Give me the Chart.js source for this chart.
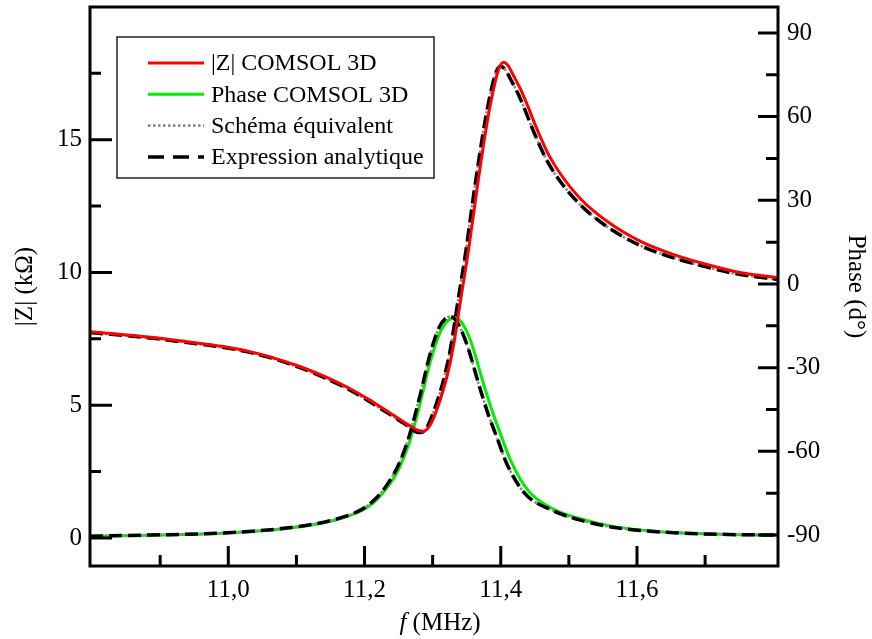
<!DOCTYPE html>
<html><head><meta charset="utf-8">
<script src="https://cdn.jsdelivr.net/npm/chart.js@4.4.1/dist/chart.umd.min.js"></script>
<style>html,body{margin:0;padding:0;background:#fff}#wrap{width:872px;height:639px}</style>
</head><body><div id="wrap"><canvas id="c" width="872" height="639"></canvas></div>
<script>
// ---- data ----
const freqZ = [10.797, 10.89, 10.94, 10.99, 11.03, 11.059, 11.106, 11.147, 11.179, 11.206, 11.224, 11.246, 11.265, 11.279, 11.287, 11.295, 11.303, 11.312, 11.322, 11.331, 11.341, 11.353, 11.366, 11.381, 11.393, 11.398, 11.404, 11.411, 11.419, 11.43, 11.44, 11.45, 11.46, 11.47, 11.488, 11.518, 11.557, 11.606, 11.654, 11.704, 11.753, 11.809];
const zComsol = [7.77, 7.55, 7.39, 7.22, 7.03, 6.84, 6.45, 6.02, 5.62, 5.22, 4.93, 4.57, 4.25, 4.05, 4.02, 4.20, 4.62, 5.28, 6.18, 7.30, 8.95, 10.90, 13.30, 15.80, 17.30, 17.72, 17.92, 17.78, 17.40, 16.85, 16.25, 15.60, 15.00, 14.45, 13.70, 12.75, 11.91, 11.16, 10.67, 10.29, 9.99, 9.80];

const freqZModel = [10.797, 10.89, 10.94, 10.99, 11.03, 11.059, 11.106, 11.147, 11.179, 11.206, 11.224, 11.246, 11.265, 11.276, 11.283, 11.291, 11.299, 11.308, 11.318, 11.327, 11.337, 11.349, 11.362, 11.377, 11.389, 11.394, 11.400, 11.407, 11.415, 11.426, 11.436, 11.446, 11.456, 11.466, 11.484, 11.514, 11.553, 11.602, 11.65, 11.70, 11.75, 11.809];
const zSchema = [7.74, 7.52, 7.36, 7.19, 7.00, 6.81, 6.41, 5.97, 5.57, 5.16, 4.87, 4.51, 4.19, 3.99, 3.97, 4.14, 4.60, 5.25, 6.15, 7.25, 8.90, 10.85, 13.25, 15.70, 17.20, 17.60, 17.77, 17.62, 17.25, 16.70, 16.10, 15.45, 14.85, 14.30, 13.55, 12.62, 11.78, 11.05, 10.58, 10.22, 9.93, 9.73];
const zAnalytic = [7.74, 7.52, 7.36, 7.19, 7.00, 6.81, 6.41, 5.97, 5.57, 5.16, 4.87, 4.51, 4.19, 3.99, 3.97, 4.14, 4.60, 5.25, 6.15, 7.25, 8.90, 10.85, 13.25, 15.70, 17.20, 17.60, 17.77, 17.62, 17.25, 16.70, 16.10, 15.45, 14.85, 14.30, 13.55, 12.62, 11.78, 11.05, 10.58, 10.22, 9.93, 9.73];

const freqPh = [10.797, 10.885, 10.99, 11.088, 11.157, 11.196, 11.215, 11.235, 11.25, 11.265, 11.28, 11.297, 11.312, 11.322, 11.332, 11.342, 11.356, 11.375, 11.388, 11.4, 11.415, 11.44, 11.474, 11.513, 11.562, 11.635, 11.734, 11.809];
const phaseComsol = [-90.4, -90.1, -89.4, -87.6, -84.6, -81.2, -78.0, -72.5, -66.5, -57.5, -44.5, -27.5, -16.8, -13.2, -12.1, -13.6, -20.5, -36, -46, -54, -63.5, -74, -80.3, -83.9, -86.8, -88.8, -89.8, -90.0];

const freqPhModel = [10.797, 10.885, 10.99, 11.088, 11.157, 11.196, 11.215, 11.235, 11.25, 11.265, 11.28, 11.297, 11.31, 11.318, 11.326, 11.335, 11.35, 11.369, 11.382, 11.394, 11.409, 11.435, 11.474, 11.513, 11.562, 11.635, 11.734, 11.809];
const phaseSchema = [-90.4, -90.0, -89.3, -87.4, -84.4, -80.8, -77.3, -71.3, -64.8, -55, -41.5, -24.5, -15.3, -12.6, -11.7, -13.3, -21.5, -37, -47, -54.8, -64.5, -75, -81.0, -84.4, -87.1, -88.9, -89.8, -90.0];
const phaseAnalytic = [-90.4, -90.0, -89.3, -87.4, -84.4, -80.8, -77.3, -71.3, -64.8, -55, -41.5, -24.5, -15.3, -12.6, -11.7, -13.3, -21.5, -37, -47, -54.8, -64.5, -75, -81.0, -84.4, -87.1, -88.9, -89.8, -90.0];

const legendLabels = ['|Z| COMSOL 3D', 'Phase COMSOL 3D', 'Schéma équivalent', 'Expression analytique'];
const freqTicks = [11.0, 11.2, 11.4, 11.6];
const freqMinor = [10.9, 11.1, 11.3, 11.5, 11.7];
const zTicks = [0, 5, 10, 15];
const zMinor = [2.5, 7.5, 12.5, 17.5];
const phaseTicks = [-90, -60, -30, 0, 30, 60, 90];
const phaseMinor = [-75, -45, -15, 15, 45, 75];

// ---- styles ----
const SERIF = "'Liberation Serif','Times New Roman',serif";
const tickFont = {family: SERIF, size: 25};
const titleFont = {family: SERIF, size: 25};
const styleRed = {borderColor: '#ff0000', borderWidth: 3, borderDash: []};
const styleGreen = {borderColor: '#00ee00', borderWidth: 3, borderDash: []};
const styleGray = {borderColor: '#8a8a8a', borderWidth: 2.6, borderDash: [2.5, 2.5]};
const styleBlack = {borderColor: '#000000', borderWidth: 3.5, borderDash: [13, 6]};

const pts = (xs, ys) => xs.map((x, i) => ({x, y: ys[i]}));
const mk = (label, data, axis, st) => Object.assign({label, data, yAxisID: axis, fill: false, pointRadius: 0, cubicInterpolationMode: 'monotone'}, st);

const datasets = [
  mk(legendLabels[0], pts(freqZ, zComsol), 'y', styleRed),
  mk(legendLabels[3], pts(freqZModel, zAnalytic), 'y', styleBlack),
  mk(legendLabels[3], pts(freqPhModel, phaseAnalytic), 'y2', styleBlack),
  mk(legendLabels[2], pts(freqZModel, zSchema), 'y', styleGray),
  mk(legendLabels[2], pts(freqPhModel, phaseSchema), 'y2', styleGray),
  mk(legendLabels[1], pts(freqPh, phaseComsol), 'y2', styleGreen)
];

const legendStyles = [styleRed, styleGreen, styleGray, Object.assign({}, styleBlack, {borderDash: [16, 9]})];

const noPad = s => { s.paddingTop = 0; s.paddingBottom = 0; s.paddingLeft = 0; s.paddingRight = 0; };

const framePlugin = {
  id: 'framePlugin',
  afterDatasetsDraw(chart) {
    const {ctx, chartArea: a, scales: {x, y, y2}} = chart;
    ctx.save();
    ctx.strokeStyle = '#000';
    ctx.lineWidth = 3;
    ctx.lineCap = 'butt';
    ctx.beginPath();
    const tx = (vals, len) => vals.forEach(v => { const p = x.getPixelForValue(v); ctx.moveTo(p, a.bottom); ctx.lineTo(p, a.bottom - len); });
    const tl = (vals, len) => vals.forEach(v => { const p = y.getPixelForValue(v); ctx.moveTo(a.left, p); ctx.lineTo(a.left + len, p); });
    const tr = (vals, len) => vals.forEach(v => { const p = y2.getPixelForValue(v); ctx.moveTo(a.right, p); ctx.lineTo(a.right - len, p); });
    tx(freqTicks, 20); tx(freqMinor, 11);
    tl(zTicks, 22); tl(zMinor, 11);
    tr(phaseTicks, 20); tr(phaseMinor, 12);
    ctx.stroke();
    ctx.lineWidth = 3;
    ctx.strokeRect(a.left, a.top, a.right - a.left, a.bottom - a.top);
    ctx.restore();
  },
  afterDraw(chart) {
    const {ctx, chartArea: a} = chart;
    ctx.save();
    // x title: italic f + (MHz)
    ctx.fillStyle = '#000';
    ctx.textBaseline = 'alphabetic';
    const cx = (a.left + a.right) / 2 + 6;
    const yb = a.bottom + 64;
    ctx.font = 'italic 25px ' + SERIF;
    const w1 = ctx.measureText('f').width;
    ctx.font = '25px ' + SERIF;
    const t2 = ' (MHz)';
    const w2 = ctx.measureText(t2).width;
    const x0 = cx - (w1 + w2) / 2;
    ctx.font = 'italic 25px ' + SERIF;
    ctx.textAlign = 'left';
    ctx.fillText('f', x0, yb);
    ctx.font = '25px ' + SERIF;
    ctx.fillText(t2, x0 + w1, yb);

    // legend box
    const bx = a.left + 27, by = a.top + 30, bw = 317, bh = 141;
    ctx.fillStyle = '#fff';
    ctx.fillRect(bx, by, bw, bh);
    ctx.strokeStyle = '#222';
    ctx.lineWidth = 1.5;
    ctx.strokeRect(bx, by, bw, bh);
    ctx.font = '24px ' + SERIF;
    ctx.textBaseline = 'middle';
    legendLabels.forEach((lab, i) => {
      const st = legendStyles[i];
      const ry = by + 26 + i * 31.3;
      ctx.save();
      ctx.strokeStyle = st.borderColor;
      ctx.lineWidth = st.borderWidth;
      ctx.setLineDash(st.borderDash);
      ctx.beginPath();
      ctx.moveTo(bx + 31, ry);
      ctx.lineTo(bx + 87, ry);
      ctx.stroke();
      ctx.restore();
      ctx.fillStyle = '#000';
      ctx.fillText(lab, bx + 94, ry + 1);
    });
    ctx.restore();
  }
};

new Chart(document.getElementById('c'), {
  type: 'line',
  data: {datasets},
  plugins: [framePlugin],
  options: {
    responsive: false,
    animation: false,
    devicePixelRatio: 1,
    layout: {padding: {top: 7, left: 0, right: 0, bottom: 0}},
    plugins: {legend: {display: false}, tooltip: {enabled: false}},
    scales: {
      x: {
        type: 'linear', min: 10.797, max: 11.807,
        afterBuildTicks: s => { s.ticks = freqTicks.map(v => ({value: v})); },
        ticks: {font: tickFont, color: '#000', padding: 9, maxRotation: 0, autoSkip: false,
          callback: v => v.toFixed(1).replace('.', ',')},
        grid: {display: false, drawTicks: false},
        border: {display: false},
        afterFit: s => { s.height = 73; noPad(s); }
      },
      y: {
        type: 'linear', position: 'left', min: -1.055, max: 20.0,
        afterBuildTicks: s => { s.ticks = zTicks.map(v => ({value: v})); },
        ticks: {font: tickFont, color: '#000', padding: 8, callback: v => String(v)},
        grid: {display: false, drawTicks: false},
        border: {display: false},
        title: {display: true, text: '|Z| (kΩ)', font: titleFont, color: '#000', padding: {top: 10, bottom: 2}},
        afterFit: s => { s.width = 90; noPad(s); }
      },
      y2: {
        type: 'linear', position: 'right', min: -101.1, max: 99.3,
        afterBuildTicks: s => { s.ticks = phaseTicks.map(v => ({value: v})); },
        ticks: {font: tickFont, color: '#000', padding: 9, callback: v => String(v)},
        grid: {display: false, drawTicks: false},
        border: {display: false},
        title: {display: true, text: 'Phase (d°)', font: titleFont, color: '#000', padding: {top: 1, bottom: 1}},
        afterFit: s => { s.width = 94; noPad(s); }
      }
    }
  }
});
</script>
</body></html>
